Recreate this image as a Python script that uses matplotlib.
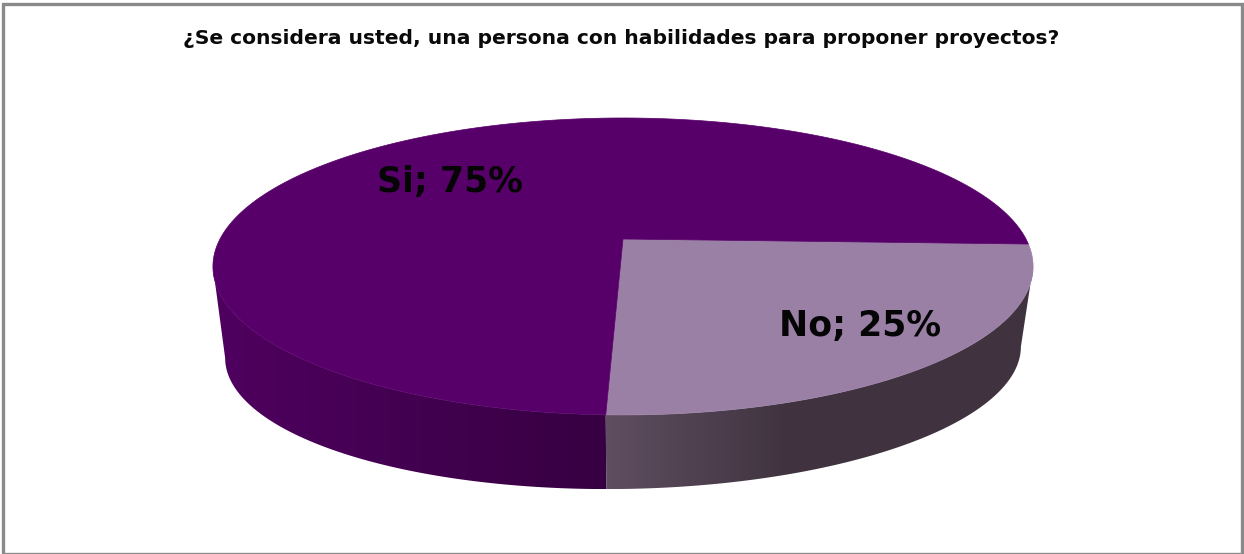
import numpy as np
import matplotlib
matplotlib.use("Agg")
import matplotlib.pyplot as plt
from matplotlib.patches import Polygon, Rectangle
from matplotlib.colors import to_rgb

title = "¿Se considera usted, una persona con habilidades para proponer proyectos?"
categories = ["Si", "No"]
shares = [75, 25]
top_colors = ["#58006a", "#9b80a6"]
# wall shade at the left and right end of each slice's visible wall
wall_shades = [("#4e005e", "#370042"), ("#5e4e60", "#40333f")]

W, H = 1244, 554
fig = plt.figure(figsize=(W / 100, H / 100), dpi=100, facecolor="white")
ax = fig.add_axes([0, 0, 1, 1])
ax.axis("off")

# Perspective disc: centre position, radii and slant for the top and bottom faces
TILT = 0.185
TOP = dict(cx=623.0, cy=239.0, a=403.0, b=143.4, slant=0.0)
BOTTOM = dict(cx=623.0, cy=327.0, a=391.0, b=132.0, slant=-0.014)
START = -2.0  # angle of the first slice boundary, degrees from the near point
SILHOUETTE = 79.3  # the wall is only visible within this angle of the near point


def project(t_deg, face):
    t = np.radians(t_deg)
    u, v = np.sin(t), np.cos(t)
    w = 1 - TILT * v
    x = face["a"] * u / w
    return face["cx"] + x, face["cy"] + face["b"] * v / w + face["slant"] * x


# "No" runs clockwise from the near point, "Si" fills the rest
spans = {}
angle = START
for i in [1, 0]:
    sweep = 360 * shares[i] / sum(shares)
    spans[i] = (angle, angle + sweep)
    angle += sweep

# Visible angular range of the side wall for each slice
wall_ranges = {
    0: (360 - SILHOUETTE, spans[0][1]),
    1: (spans[1][0], SILHOUETTE),
}
gradient_x = {0: (226, 600), 1: (607, 790)}

# Side wall: a horizontal gradient clipped to the band between both faces
for i, (t0, t1) in wall_ranges.items():
    ts = np.linspace(t0, t1, 300)
    xt, yt = project(ts, TOP)
    xb, yb = project(ts, BOTTOM)
    outline = np.column_stack([np.r_[xt, xb[::-1]], np.r_[yt, yb[::-1]]])
    band = Polygon(outline, closed=True, fc="none", ec="none",
                   transform=ax.transData)
    ax.add_patch(band)

    x0, x1 = outline[:, 0].min(), outline[:, 0].max()
    y0, y1 = outline[:, 1].min(), outline[:, 1].max()
    px = np.linspace(x0, x1, 400)
    left, right = gradient_x[i]
    f = np.clip((px - left) / (right - left), 0, 1)[None, :, None]
    c0, c1 = (np.array(to_rgb(c)) for c in wall_shades[i])
    img = ax.imshow(c0 + (c1 - c0) * f, extent=(x0, x1, y1, y0), aspect="auto",
                    interpolation="bilinear", zorder=2)
    img.set_clip_path(band)

ax.set_xlim(0, W)
ax.set_ylim(H, 0)

# Top face
for i, (t0, t1) in spans.items():
    ts = np.linspace(t0, t1, 300)
    xs, ys = project(ts, TOP)
    pts = [(TOP["cx"], TOP["cy"])] + list(zip(xs, ys))
    ax.add_patch(Polygon(pts, closed=True, fc=top_colors[i], ec=top_colors[i],
                         lw=0.5, zorder=3))

# Slice labels
label_font = dict(family="DejaVu Sans", weight="bold", color="#050505",
                  size=25, ha="center", va="center", zorder=5)
ax.text(450, 182, f"{categories[0]}; {shares[0]}%", **label_font)
ax.text(860, 326, f"{categories[1]}; {shares[1]}%", **label_font)

ax.text(621.5, 39, title, family="DejaVu Sans", weight="bold", size=14.55,
        color="#0a0a0a", ha="center", va="center", zorder=5)

# Chart frame
ax.add_patch(Rectangle((3, 3.5), W - 5.5, H - 3.5, fc="none", ec="#8a8a8a",
                       lw=2.4, zorder=6))

fig.savefig("out.png", dpi=100, facecolor="white")
